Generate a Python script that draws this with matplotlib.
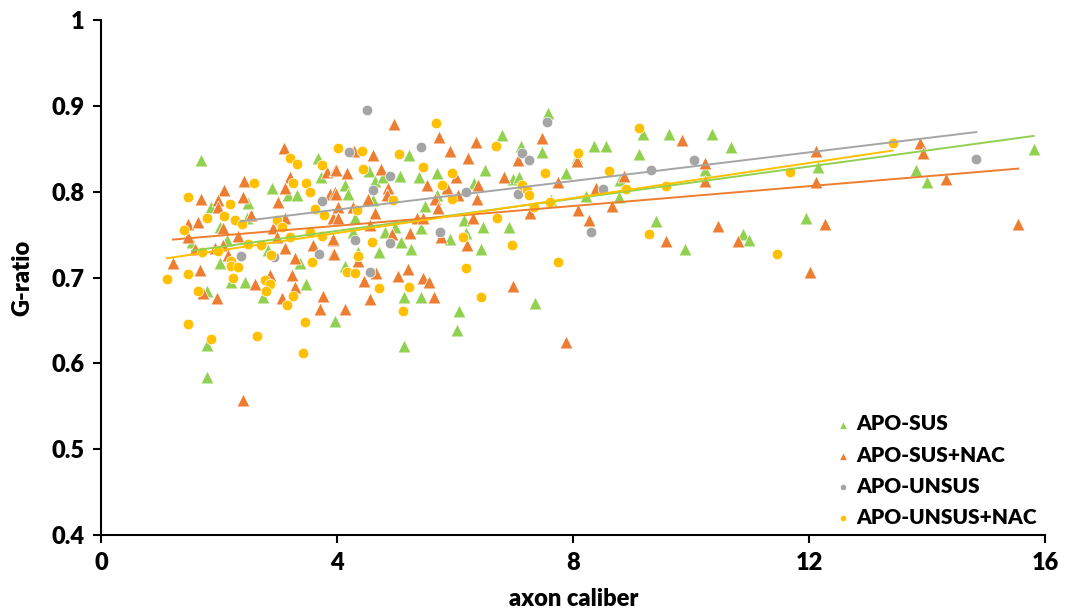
import numpy as np
import matplotlib
matplotlib.use("Agg")
import matplotlib.pyplot as plt

plt.rcParams['font.family'] = ['Lato', 'DejaVu Sans']
plt.rcParams['font.weight'] = 'bold'

# APO-SUS (green triangles)
sus_x = [1.70, 3.67, 3.73, 2.89, 3.17, 3.32, 1.87, 2.49, 2.47, 2.01, 2.13, 1.54, 2.83, 2.01,
         3.37, 2.21, 2.44, 3.48, 1.79, 2.74, 3.96, 1.79, 1.79,
         7.57, 6.79, 7.11, 7.47, 5.22, 8.06, 4.54, 6.50, 5.06, 5.38, 5.69, 6.98, 7.08, 7.87,
         4.64, 4.78, 4.13, 4.19, 6.32, 5.69, 5.49, 4.61, 7.62, 6.15, 4.30, 4.98, 6.47, 6.91,
         5.43, 4.81, 4.27, 5.91, 5.08, 5.25, 4.71, 6.43, 6.18, 4.35, 4.13, 5.13, 5.42, 6.06,
         6.04, 7.35, 5.13,
         8.35, 8.55, 9.19, 9.62, 10.36, 10.67, 9.11, 10.24, 8.79, 8.21, 8.77, 9.41, 9.89,
         10.87, 10.97, 11.94, 12.14, 13.80, 14.00, 15.80]
sus_y = [0.837, 0.839, 0.817, 0.804, 0.796, 0.796, 0.782, 0.787, 0.770, 0.759, 0.744, 0.741, 0.732, 0.717,
         0.717, 0.695, 0.695, 0.693, 0.685, 0.677, 0.650, 0.621, 0.584,
         0.892, 0.866, 0.853, 0.847, 0.843, 0.839, 0.824, 0.826, 0.819, 0.817, 0.822, 0.815, 0.817, 0.822,
         0.813, 0.817, 0.808, 0.798, 0.810, 0.796, 0.783, 0.790, 0.790, 0.767, 0.770, 0.759, 0.759, 0.759,
         0.758, 0.753, 0.753, 0.745, 0.741, 0.733, 0.730, 0.733, 0.752, 0.730, 0.714, 0.677, 0.678, 0.661,
         0.639, 0.670, 0.620,
         0.853, 0.853, 0.867, 0.868, 0.867, 0.852, 0.844, 0.825, 0.814, 0.795, 0.794, 0.766, 0.734,
         0.751, 0.744, 0.769, 0.829, 0.826, 0.812, 0.850]

# APO-SUS+NAC (orange triangles)
nac_x = [3.10, 3.20, 3.12, 2.42, 2.08, 2.40, 1.70, 1.98, 1.98, 3.00, 2.55, 1.47, 1.64, 2.07,
         3.12, 2.32, 1.47, 2.91, 2.98, 1.59, 1.93, 2.07, 3.12, 3.59, 3.93, 3.93, 3.28, 1.22,
         1.68, 2.15, 3.23, 2.86, 2.61, 3.28, 1.73, 1.96, 3.06, 3.76, 3.71, 2.40, 3.83, 3.96,
         3.88, 3.96, 3.93,
         4.96, 5.72, 6.36, 5.91, 4.28, 4.61, 6.21, 7.47, 7.06, 3.99, 4.16, 4.74, 6.01, 5.52,
         6.82, 7.75, 3.99, 4.86, 6.38, 5.86, 4.84, 4.52, 5.66, 6.37, 6.05, 4.01, 4.27, 5.71,
         4.64, 4.01, 5.35, 5.45, 6.30, 7.26, 8.08, 4.55, 5.23, 4.93, 3.93, 5.76, 6.20, 3.95,
         4.35, 4.66, 5.20, 5.03, 5.45, 5.55, 4.45, 6.98, 5.64, 4.55, 4.13, 7.87,
         9.84, 8.06, 8.86, 8.38, 10.23, 10.24, 12.11, 12.11, 8.65, 8.26, 9.58, 10.46, 10.79,
         12.02, 13.88, 13.92, 14.31, 12.26, 15.54]
nac_y = [0.851, 0.817, 0.804, 0.813, 0.802, 0.794, 0.792, 0.790, 0.782, 0.788, 0.773, 0.763, 0.765, 0.758,
         0.770, 0.749, 0.747, 0.758, 0.747, 0.734, 0.735, 0.738, 0.735, 0.738, 0.744, 0.728, 0.723, 0.717,
         0.709, 0.726, 0.703, 0.703, 0.693, 0.689, 0.682, 0.676, 0.676, 0.679, 0.664, 0.557, 0.823, 0.825,
         0.798, 0.800, 0.769,
         0.879, 0.864, 0.858, 0.848, 0.848, 0.843, 0.840, 0.863, 0.837, 0.825, 0.822, 0.827, 0.817, 0.808,
         0.817, 0.811, 0.798, 0.804, 0.808, 0.804, 0.796, 0.792, 0.792, 0.792, 0.796, 0.782, 0.782, 0.781,
         0.775, 0.770, 0.770, 0.769, 0.770, 0.775, 0.779, 0.761, 0.752, 0.751, 0.745, 0.747, 0.738, 0.728,
         0.720, 0.705, 0.710, 0.702, 0.700, 0.695, 0.696, 0.690, 0.677, 0.675, 0.664, 0.625,
         0.861, 0.836, 0.819, 0.805, 0.834, 0.813, 0.848, 0.811, 0.784, 0.767, 0.743, 0.760, 0.743,
         0.707, 0.857, 0.845, 0.815, 0.762, 0.762]

# APO-UNSUS (gray circles)
uns_x = [3.74, 2.37, 2.93, 3.69, 4.50, 4.20, 5.42, 4.89, 4.61, 6.18, 7.06, 4.30, 4.89, 5.75,
         4.55, 7.13, 7.25, 7.55, 10.04, 9.31, 8.50, 8.31, 14.83]
uns_y = [0.789, 0.725, 0.724, 0.728, 0.896, 0.846, 0.852, 0.818, 0.802, 0.800, 0.797, 0.744, 0.740, 0.753,
         0.707, 0.845, 0.837, 0.882, 0.837, 0.826, 0.803, 0.753, 0.838]

# APO-UNSUS+NAC (yellow circles)
unn_x = [4.01, 3.20, 3.32, 3.74, 2.59, 3.25, 3.48, 3.54, 1.47, 2.18, 2.08, 1.80, 2.27, 2.39,
         3.62, 3.78, 1.41, 2.98, 3.06, 3.20, 3.54, 3.74, 2.49, 2.71, 1.72, 1.98, 2.88, 2.20,
         3.57, 2.21, 2.33, 1.12, 1.48, 2.23, 2.78, 2.87, 1.64, 2.79, 3.26, 3.16, 3.45, 1.47,
         1.86, 2.64, 3.42,
         5.67, 4.42, 5.05, 6.69, 4.44, 5.45, 5.94, 7.52, 5.77, 7.13, 7.21, 7.25, 5.94, 4.94,
         7.60, 7.33, 4.33, 6.71, 6.13, 4.59, 6.96, 4.35, 4.16, 4.30, 6.18, 7.74, 4.71, 5.22,
         6.43, 5.12, 8.08,
         9.11, 8.60, 8.89, 9.57, 11.67, 9.28, 11.45, 13.41]
unn_y = [0.851, 0.840, 0.832, 0.831, 0.810, 0.810, 0.810, 0.800, 0.794, 0.786, 0.772, 0.769, 0.767, 0.762,
         0.780, 0.773, 0.755, 0.767, 0.759, 0.747, 0.753, 0.749, 0.739, 0.738, 0.730, 0.731, 0.727, 0.720,
         0.718, 0.714, 0.712, 0.698, 0.704, 0.700, 0.697, 0.693, 0.685, 0.685, 0.679, 0.668, 0.648, 0.646,
         0.629, 0.632, 0.612,
         0.880, 0.848, 0.844, 0.853, 0.827, 0.829, 0.822, 0.822, 0.808, 0.808, 0.802, 0.796, 0.792, 0.791,
         0.788, 0.782, 0.779, 0.770, 0.747, 0.741, 0.738, 0.725, 0.707, 0.706, 0.711, 0.718, 0.688, 0.689,
         0.678, 0.661, 0.845,
         0.875, 0.824, 0.803, 0.807, 0.823, 0.751, 0.728, 0.857]

series = [
    ("APO-SUS", sus_x, sus_y, "#92D050", "^", 85),
    ("APO-SUS+NAC", nac_x, nac_y, "#ED7D31", "^", 85),
    ("APO-UNSUS", uns_x, uns_y, "#A5A5A5", "o", 58),
    ("APO-UNSUS+NAC", unn_x, unn_y, "#FFC000", "o", 58),
]

fig = plt.figure(figsize=(10.66, 6.15), dpi=100)
ax = fig.add_axes([0.0947, 0.130, 0.886, 0.837])

for name, xs, ys, col, mk, sz in series:
    ax.scatter(xs, ys, s=sz, marker=mk, color=col, edgecolors="white",
               linewidths=0.5, label=name, zorder=2)

# linear trendlines over each series' x range
for name, xs, ys, col, mk, sz in series:
    xs = np.array(xs)
    k, b = np.polyfit(xs, ys, 1)
    xx = np.array([xs.min(), xs.max()])
    ax.plot(xx, k * xx + b, color=col, lw=1.4, zorder=3)

ax.set_xlim(0, 16)
ax.set_ylim(0.4, 1.0)
ax.set_xticks([0, 4, 8, 12, 16])
ax.set_yticks([0.4, 0.5, 0.6, 0.7, 0.8, 0.9, 1.0])
ax.set_yticklabels(["0.4", "0.5", "0.6", "0.7", "0.8", "0.9", "1"])
ax.spines['top'].set_visible(False)
ax.spines['right'].set_visible(False)
for sp in ('left', 'bottom'):
    ax.spines[sp].set_linewidth(1.5)
ax.tick_params(direction='out', length=6, width=1.5, labelsize=17, pad=6)
for lab in ax.get_xticklabels() + ax.get_yticklabels():
    lab.set_fontweight('heavy')

ax.set_xlabel("axon caliber", fontsize=17, fontweight='heavy', labelpad=10)
ax.set_ylabel("G-ratio", fontsize=17, fontweight='heavy', labelpad=13)

leg = ax.legend(loc='lower right', bbox_to_anchor=(1.0, 0.0), frameon=False,
                fontsize=15, handletextpad=0.15, labelspacing=0.58,
                markerscale=0.6, handlelength=1.0, borderaxespad=0.0)
for t in leg.get_texts():
    t.set_fontweight('heavy')

fig.savefig("out.png", dpi=100)
